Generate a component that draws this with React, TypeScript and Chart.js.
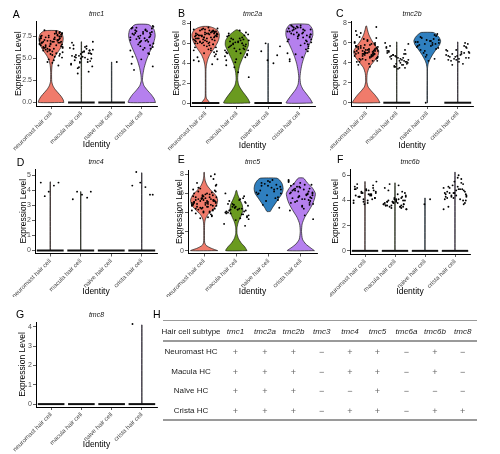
import React, { useEffect, useRef } from 'react';
import { Chart, registerables } from 'chart.js';

Chart.register(...registerables);
Chart.defaults.font.family = "'Liberation Sans', Arial, sans-serif";

type Pair = [number, number];

// ---------- shared ----------
const GROUPS = ['neuromast hair cell', 'macula hair cell', 'naive hair cell', 'crista hair cell'];
const COLORS = ['#F07B6B', '#6A9A1F', '#2F7FBF', '#B580EE'];
// fixed jitter offsets (fraction of a category slot), cycled over points
const JITTER = [-0.31, 0.12, -0.05, 0.27, -0.18, 0.36, -0.38, 0.04, 0.21, -0.26, 0.33, -0.12, 0.09, -0.34, 0.17, -0.02, 0.29, -0.22, 0.38, -0.08, 0.24];

// ---------- tmc1 ----------
const TMC1_YTICKS = [0, 2.5, 5, 7.5];
const TMC1_V_NEUROMAST: Pair[] = [[0, 0.42], [0.3, 0.4], [0.7, 0.33], [1.1, 0.23], [1.5, 0.13], [1.9, 0.06], [2.4, 0.02], [3.4, 0.015], [4.2, 0.03], [4.8, 0.07], [5.3, 0.14], [5.8, 0.24], [6.3, 0.33], [6.8, 0.38], [7.3, 0.4], [7.8, 0.36], [8.15, 0.22]];
const TMC1_V_MACULA: Pair[] = [[0, 0.006], [6.9, 0.006]];
const TMC1_V_NAIVE: Pair[] = [[0, 0.006], [4.6, 0.006]];
const TMC1_V_CRISTA: Pair[] = [[0, 0.45], [0.4, 0.41], [0.9, 0.31], [1.4, 0.18], [1.9, 0.07], [2.5, 0.02], [3.2, 0.035], [4, 0.08], [4.8, 0.15], [5.5, 0.23], [6.2, 0.32], [6.9, 0.4], [7.6, 0.44], [8.3, 0.4], [8.85, 0.22]];
const TMC1_P_NEUROMAST = [6.8, 7.2, 5.9, 7.5, 6.3, 7.9, 6.6, 5.4, 7.1, 6.9, 7.7, 6.1, 4.8, 7.3, 6.5, 7.0, 8.0, 6.2, 5.7, 7.4, 6.8, 7.6, 5.2, 6.4, 7.2, 6.0, 7.8, 6.7, 4.5, 7.0, 6.3, 7.5, 5.8, 6.9, 7.3, 8.1, 6.6, 5.5, 7.1, 6.2, 7.6, 4.2, 6.8, 7.4, 6.0, 7.9, 6.5, 5.1, 7.2, 6.9, 7.7, 5.9, 6.4, 7.0, 6.1, 7.5, 5.6, 6.7, 7.3, 8.2, 6.3, 4.9, 7.1, 6.8, 7.8, 6.0, 5.3, 7.4, 6.6, 7.0, 5.8, 7.6, 6.2, 6.9, 4.6, 7.2, 6.5, 7.9, 5.5, 6.8];
const TMC1_P_MACULA = [5.2, 4.6, 6.1, 5.5, 3.9, 5.8, 4.3, 6.4, 5.0, 5.6, 4.8, 6.0, 5.3, 3.5, 6.8, 5.1, 4.5, 5.9, 5.4, 4.1, 6.2, 5.7, 4.9, 6.5, 5.0, 3.3, 5.8, 4.4, 6.1, 5.5, 4.7, 5.2, 6.9, 4.0, 5.6, 5.3, 6.3, 4.6, 5.9, 5.1];
const TMC1_P_NAIVE = [4.6];
const TMC1_P_CRISTA = [7.8, 8.2, 6.9, 7.5, 8.5, 6.3, 7.1, 8.0, 5.6, 7.7, 8.4, 6.6, 7.3, 4.4, 8.1, 7.0, 6.1, 7.9, 8.6, 6.8, 7.4, 5.2, 8.3, 7.6, 6.5, 7.2, 8.7, 5.9, 7.8, 6.9, 3.7, 8.0, 7.5, 6.2, 8.4, 7.1, 4.9, 7.7, 8.2, 6.7, 7.3, 5.5, 8.5, 7.0, 6.4, 7.9, 8.1, 4.1, 7.4, 6.0];
const TMC1_ZERO = [false, true, true, false];

// ---------- tmc2a ----------
const TMC2A_YTICKS = [0, 2, 4, 6, 8];
const TMC2A_V_NEUROMAST: Pair[] = [[0, 0.14], [0.2, 0.09], [0.45, 0.03], [0.7, 0.012], [3.4, 0.012], [3.9, 0.03], [4.4, 0.07], [4.9, 0.14], [5.4, 0.25], [5.9, 0.35], [6.4, 0.42], [6.9, 0.44], [7.3, 0.38], [7.55, 0.26], [7.7, 0.1]];
const TMC2A_V_MACULA: Pair[] = [[0, 0.42], [0.4, 0.36], [0.8, 0.27], [1.3, 0.15], [1.8, 0.06], [2.4, 0.025], [3.1, 0.04], [3.8, 0.09], [4.5, 0.18], [5.2, 0.29], [5.8, 0.37], [6.3, 0.36], [6.8, 0.25], [7.1, 0.14], [7.35, 0.03]];
const TMC2A_V_NAIVE: Pair[] = [[0, 0.006], [6.0, 0.006]];
const TMC2A_V_CRISTA: Pair[] = [[0, 0.42], [0.4, 0.35], [0.9, 0.23], [1.4, 0.11], [1.9, 0.04], [2.6, 0.02], [3.3, 0.045], [4, 0.09], [4.7, 0.16], [5.4, 0.25], [6.1, 0.35], [6.8, 0.43], [7.4, 0.42], [7.9, 0.3]];
const TMC2A_P_NEUROMAST = [6.5, 6.9, 5.8, 7.2, 6.1, 6.7, 5.3, 7.0, 6.4, 4.6, 6.8, 7.4, 6.0, 5.6, 6.6, 7.1, 6.3, 4.2, 6.9, 7.5, 5.9, 6.2, 7.3, 6.6, 5.1, 6.8, 7.0, 6.4, 5.7, 7.2, 6.0, 4.9, 6.7, 7.6, 6.3, 5.5, 6.9, 7.1, 6.5, 4.4, 6.1, 7.3, 6.8, 5.8, 6.6, 7.0, 6.2, 5.2, 7.4, 6.5, 3.9, 6.9, 7.2, 6.0, 5.4, 6.7, 7.1, 6.3, 4.7, 6.8, 7.5, 6.4, 5.9, 7.0, 6.1, 5.0, 6.6, 7.3, 6.9, 4.3, 6.2, 7.2, 6.5, 5.6, 6.8, 7.0, 6.0, 5.3, 7.4, 6.7];
const TMC2A_P_MACULA = [6.2, 5.5, 6.8, 4.9, 5.9, 6.5, 4.3, 6.0, 5.2, 7.1, 5.7, 6.3, 3.6, 5.4, 6.7, 5.0, 6.1, 4.6, 5.8, 6.9, 5.3, 3.1, 6.4, 5.6, 4.8, 6.0, 7.3, 5.1, 6.6, 4.4, 5.9, 6.2, 2.6, 5.5, 6.8, 5.0, 6.3, 4.1, 5.7, 6.5, 5.3, 4.7, 6.1, 5.8, 7.0, 4.9, 6.4, 5.4, 3.8, 6.0];
const TMC2A_P_NAIVE = [4.0, 4.3, 4.8, 5.2, 5.7, 6.0];
const TMC2A_P_CRISTA = [7.2, 6.6, 7.6, 5.9, 6.9, 7.4, 6.2, 7.8, 5.4, 7.0, 6.7, 7.5, 4.6, 6.4, 7.3, 6.9, 5.7, 7.7, 6.1, 7.1, 6.8, 4.2, 7.4, 6.5, 5.2, 7.6, 6.9, 7.2, 5.8, 6.3, 7.8, 6.6, 4.9, 7.0, 7.5, 6.0, 6.8, 5.5, 7.3, 6.4, 7.7, 6.2, 4.4, 7.1, 6.7, 5.9, 7.4, 6.9, 5.0, 7.6];
const TMC2A_ZERO = [true, false, true, false];

// ---------- tmc2b ----------
const TMC2B_YTICKS = [0, 2, 4, 6, 8];
const TMC2B_V_NEUROMAST: Pair[] = [[0, 0.45], [0.4, 0.38], [0.8, 0.28], [1.2, 0.16], [1.6, 0.06], [2.1, 0.02], [2.9, 0.03], [3.5, 0.09], [4.1, 0.24], [4.7, 0.38], [5.2, 0.41], [5.7, 0.31], [6.2, 0.19], [6.8, 0.09], [7.3, 0.04], [7.7, 0.01]];
const TMC2B_V_MACULA: Pair[] = [[0, 0.006], [6.1, 0.006]];
const TMC2B_V_NAIVE: Pair[] = [[0, 0.008], [3.4, 0.008], [3.9, 0.03], [4.3, 0.08], [4.8, 0.17], [5.3, 0.28], [5.8, 0.4], [6.2, 0.44], [6.6, 0.38], [6.9, 0.28], [7.05, 0.2]];
const TMC2B_V_CRISTA: Pair[] = [[0, 0.006], [6.1, 0.006]];
const TMC2B_P_NEUROMAST = [5.2, 4.6, 5.8, 4.9, 5.5, 4.2, 6.1, 5.0, 4.7, 5.4, 6.5, 4.4, 5.1, 5.7, 4.8, 5.3, 6.0, 4.1, 5.6, 4.9, 5.2, 6.8, 4.5, 5.0, 5.9, 4.3, 5.4, 4.7, 6.2, 5.1, 3.8, 5.5, 4.9, 5.3, 7.2, 4.6, 5.0, 5.8, 4.4, 5.2, 6.4, 4.8, 5.6, 3.6, 5.1, 4.9, 5.7, 4.5, 6.0, 5.3, 4.2, 5.0, 7.6, 4.7, 5.4, 4.9, 5.9, 4.3, 5.2, 6.6, 4.6, 5.5, 5.0, 4.1, 5.8, 4.8, 5.3, 7.0, 4.5, 5.1, 6.3, 4.9, 5.6, 4.4, 5.2, 3.9, 5.7, 4.7, 5.0, 5.4];
const TMC2B_P_MACULA = [4.5, 3.8, 5.2, 4.1, 4.8, 3.5, 5.6, 4.3, 3.9, 4.9, 4.6, 5.9, 3.7, 4.2, 5.0, 4.4, 3.6, 5.3, 4.7, 4.0, 6.0, 3.4, 4.5, 5.1, 3.9, 4.8, 4.2, 5.5, 3.8, 4.6, 4.1, 5.7, 4.3, 3.6, 4.9, 5.2, 4.0, 4.7, 3.5, 4.4];
const TMC2B_P_NAIVE = [5.8, 6.3, 5.4, 6.6, 6.0, 5.2, 6.8, 5.7, 6.2, 4.6, 5.9, 6.5, 5.5, 6.1, 4.2, 6.4, 5.8, 6.9, 5.0, 6.2, 5.6, 6.0, 4.8, 6.7, 5.3, 6.3, 5.9, 4.4, 6.1, 5.7, 0];
const TMC2B_P_CRISTA = [4.7, 5.1, 4.3, 5.6, 4.9, 4.5, 5.3, 4.1, 5.0, 4.6, 5.9, 4.4, 4.8, 5.2, 3.9, 4.7, 5.5, 4.2, 5.0, 4.6, 6.0, 4.3, 4.9, 5.3, 4.5, 3.8, 5.1, 4.8, 4.4, 5.7];
const TMC2B_ZERO = [false, true, false, true];

// ---------- tmc4 ----------
const TMC4_YTICKS = [0, 1, 2, 3, 4, 5];
const TMC4_V_NEUROMAST: Pair[] = [[0, 0.006], [4.55, 0.006]];
const TMC4_V_MACULA: Pair[] = [[0, 0.006], [3.9, 0.006]];
const TMC4_V_NAIVE: Pair[] = [];
const TMC4_V_CRISTA: Pair[] = [[0, 0.006], [5.15, 0.006]];
const TMC4_P_NEUROMAST = [4.5, 4.3, 3.9, 4.5, 3.6];
const TMC4_P_MACULA = [3.7, 3.5, 3.4, 3.9, 3.9];
const TMC4_P_NAIVE: number[] = [];
const TMC4_P_CRISTA = [4.3, 4.2, 4.5, 3.7, 5.2, 3.7];
const TMC4_ZERO = [true, true, true, true];

// ---------- tmc5 ----------
const TMC5_YTICKS = [0, 2, 4, 6, 8];
const TMC5_V_NEUROMAST: Pair[] = [[0, 0.42], [0.25, 0.22], [0.55, 0.06], [0.9, 0.015], [2.8, 0.015], [3.3, 0.04], [3.8, 0.12], [4.3, 0.27], [4.8, 0.39], [5.3, 0.42], [5.8, 0.36], [6.3, 0.22], [6.8, 0.1], [7.3, 0.035], [7.8, 0.012], [8.2, 0.008]];
const TMC5_V_MACULA: Pair[] = [[0, 0.33], [0.4, 0.26], [0.8, 0.15], [1.3, 0.06], [1.8, 0.02], [2.4, 0.02], [3.0, 0.06], [3.6, 0.14], [4.2, 0.2], [4.8, 0.18], [5.4, 0.1], [5.9, 0.04], [6.3, 0.01]];
const TMC5_V_NAIVE: Pair[] = [[4.1, 0.05], [4.5, 0.12], [5, 0.22], [5.5, 0.32], [6, 0.42], [6.5, 0.45], [7, 0.42], [7.4, 0.34], [7.6, 0.25]];
const TMC5_V_CRISTA: Pair[] = [[0, 0.42], [0.3, 0.3], [0.7, 0.15], [1.2, 0.05], [2, 0.02], [2.8, 0.04], [3.5, 0.12], [4.2, 0.25], [4.8, 0.35], [5.4, 0.42], [6, 0.45], [6.6, 0.35], [7.1, 0.2], [7.6, 0.08]];
const TMC5_P_NEUROMAST = [5.1, 4.6, 5.7, 4.2, 5.4, 6.2, 4.8, 5.0, 3.8, 5.6, 4.4, 6.5, 5.2, 4.9, 5.9, 4.0, 5.3, 7.1, 4.7, 5.5, 3.6, 6.0, 5.1, 4.5, 5.8, 4.3, 6.8, 5.0, 4.8, 5.4, 3.9, 6.3, 5.2, 4.6, 5.7, 4.1, 5.3, 7.5, 4.9, 5.6, 4.4, 6.1, 5.0, 3.5, 5.5, 4.7, 6.6, 5.1, 4.2, 5.9, 4.8, 5.3, 8.0, 4.5, 5.0, 6.4, 4.0, 5.7, 5.2, 4.6, 6.9, 5.4, 3.7, 5.1, 4.9, 5.8, 4.3, 6.2, 5.0, 4.7, 5.5, 7.8, 4.4, 5.2, 3.4, 6.0, 4.8, 5.6, 4.1, 5.3];
const TMC5_P_MACULA = [4.3, 3.8, 4.9, 3.5, 4.6, 5.3, 4.0, 4.4, 3.2, 5.0, 4.2, 3.7, 4.8, 5.7, 4.1, 3.4, 4.5, 5.1, 3.9, 4.7, 2.8, 4.3, 5.5, 4.0, 3.6, 4.9, 4.4, 6.0, 3.8, 4.6, 4.2, 5.2, 3.3, 4.8, 4.1, 3.9, 5.4, 4.5, 2.6, 4.3];
const TMC5_P_NAIVE = [6.2, 6.8, 5.6, 7.1, 6.4, 5.2, 6.9, 6.0, 7.4, 5.8, 6.5, 4.8, 6.7, 6.1, 7.2, 5.5, 6.3, 4.5, 7.0, 6.6, 5.9, 6.4, 7.3, 5.3, 6.8, 6.0];
const TMC5_P_CRISTA = [6.1, 5.4, 6.7, 5.0, 6.3, 5.8, 7.2, 4.6, 6.0, 5.5, 6.9, 5.2, 6.4, 4.2, 5.9, 6.6, 5.6, 7.0, 4.9, 6.2, 5.3, 6.8, 3.7, 5.7, 6.5, 5.1, 6.1, 7.4, 4.7, 5.9, 6.3, 5.5, 6.7, 4.4, 6.0, 5.8, 7.1, 5.2, 6.4, 3.3, 5.6, 6.2, 5.0, 6.9, 5.7, 4.8, 6.5, 6.0, 7.3, 5.4];
const TMC5_ZERO = [false, false, false, false];

// ---------- tmc6b ----------
const TMC6B_YTICKS = [0, 2, 4, 6];
const TMC6B_V_NEUROMAST: Pair[] = [[0, 0.006], [5.5, 0.006]];
const TMC6B_V_MACULA: Pair[] = [[0, 0.006], [5.4, 0.006]];
const TMC6B_V_NAIVE: Pair[] = [[0, 0.006], [4.2, 0.006]];
const TMC6B_V_CRISTA: Pair[] = [[0, 0.006], [6.25, 0.006]];
const TMC6B_P_NEUROMAST = [4.4, 4.8, 4.1, 5.0, 4.3, 4.6, 3.8, 4.9, 4.5, 5.3, 4.2, 4.7, 4.0, 5.1, 4.4, 3.7, 4.8, 4.3, 5.5, 4.6, 4.1, 4.9, 4.5, 3.9, 5.2, 4.3, 4.7, 4.0, 4.8, 4.4, 5.0, 4.2, 4.6, 3.8, 4.9, 4.5];
const TMC6B_P_MACULA = [3.9, 4.2, 3.6, 4.0, 3.4, 4.5, 3.8, 3.5, 4.1, 3.7, 4.8, 3.3, 3.9, 4.3, 3.6, 5.2, 3.8, 4.0, 3.5, 4.4, 3.7, 4.1, 3.4, 3.9, 4.6, 3.6, 3.8, 5.0, 3.5, 4.2, 3.7, 4.0, 3.3, 3.9, 4.7, 3.6, 4.1, 3.8, 3.5, 5.3, 4.3, 3.7, 4.0, 3.6, 3.9];
const TMC6B_P_NAIVE = [4.1, 3.7];
const TMC6B_P_CRISTA = [4.5, 4.9, 4.2, 5.3, 4.6, 4.0, 5.0, 4.4, 5.7, 4.7, 3.8, 4.3, 5.1, 4.6, 4.1, 5.5, 4.8, 3.5, 4.4, 5.2, 4.9, 4.3, 6.0, 4.6, 4.0, 5.0, 4.5, 3.3, 4.8, 5.4, 4.2, 4.7, 4.4, 5.8, 4.1, 4.9, 4.6, 3.7, 5.1, 4.3];
const TMC6B_ZERO = [true, true, true, true];

// ---------- tmc8 ----------
const TMC8_YTICKS = [0, 1, 2, 3, 4];
const TMC8_V_CRISTA: Pair[] = [[0, 0.006], [4.1, 0.006]];
const TMC8_P_CRISTA = [4.15];
const TMC8_ZERO = [true, true, true, true];

// ---------- table H ----------
const TABLE_GENES = ['tmc1', 'tmc2a', 'tmc2b', 'tmc3', 'tmc4', 'tmc5', 'tmc6a', 'tmc6b', 'tmc8'];
const TABLE_ROWS = ['Neuromast HC', 'Macula HC', 'Naïve HC', 'Crista HC'];
const TABLE_NEUROMAST = ['+', '+', '+', '−', '+', '+', '−', '+', '−'];
const TABLE_MACULA = ['+', '+', '+', '−', '+', '+', '−', '+', '−'];
const TABLE_NAIVE = ['+', '+', '+', '−', '−', '+', '−', '−', '−'];
const TABLE_CRISTA = ['+', '+', '+', '−', '+', '+', '−', '+', '+'];

// ---------- layout (positions only) ----------
type Box = { cl: number; ct: number; cw: number; ch: number; L: number; R: number; T: number; B: number; yTitleX: number; titleY: number; xTitleY: number; lx: number; ly: number };

type PanelCfg = {
  letter: string; gene: string; yMin: number; yMax: number; yTicks: number[]; decimals: number;
  violins: Pair[][]; points: number[][]; zeros: boolean[]; box: Box;
};

const FONT = "'Liberation Sans', Arial, sans-serif";
const Y_TITLE = 8.5;
const G_TITLE = 7;

function violinPath(g: number, prof: Pair[]) {
  if (prof.length === 0) return [];
  const right = prof.map(([y, w]) => ({ x: g + w, y }));
  const left = prof.slice().reverse().map(([y, w]) => ({ x: g - w, y }));
  return [...right, ...left, right[0]];
}

function Panel({ cfg }: { cfg: PanelCfg }) {
  const ref = useRef<HTMLCanvasElement>(null);
  const b = cfg.box;
  useEffect(() => {
    const lhY = Y_TITLE * 1.2;
    const lhT = G_TITLE * 1.2;
    const datasets: any[] = [];
    cfg.violins.forEach((prof, i) => {
      if (!prof.length) return;
      datasets.push({
        data: violinPath(i + 1, prof), showLine: true, fill: 'shape',
        backgroundColor: COLORS[i], borderColor: '#1a1a1a', borderWidth: 0.7,
        pointRadius: 0, pointHoverRadius: 0, tension: 0.2, order: 3,
      });
    });
    cfg.zeros.forEach((z, i) => {
      if (!z) return;
      datasets.push({
        data: [{ x: i + 1 - 0.44, y: 0 }, { x: i + 1 + 0.44, y: 0 }], showLine: true,
        borderColor: '#111', borderWidth: 2, pointRadius: 0, pointHoverRadius: 0, order: 2,
      });
    });
    cfg.points.forEach((arr, i) => {
      if (!arr.length) return;
      datasets.push({
        data: arr.map((y, k) => ({ x: i + 1 + JITTER[(k + i * 7) % JITTER.length], y })),
        showLine: false, pointRadius: 0.95, pointHoverRadius: 0.95, backgroundColor: '#000', borderWidth: 0, order: 1,
      });
    });
    const chart = new Chart(ref.current!, {
      type: 'scatter',
      data: { datasets },
      options: {
        responsive: false, animation: false, events: [],
        layout: { padding: { left: 0, top: 0, bottom: 0, right: b.cl + b.cw - b.R } },
        plugins: {
          legend: { display: false }, tooltip: { enabled: false },
          title: {
            display: true, text: cfg.gene, fullSize: false, color: '#111',
            font: { family: FONT, size: G_TITLE, style: 'italic', weight: 'normal' },
            padding: { top: b.titleY - b.ct - lhT / 2, bottom: b.T - b.titleY - lhT / 2 },
          },
        },
        scales: {
          x: {
            type: 'linear', min: 0.5, max: 4.5,
            afterBuildTicks: (s: any) => { s.ticks = [1, 2, 3, 4].map((v) => ({ value: v })); },
            afterFit: (s: any) => { s.height = b.ct + b.ch - b.B; s.paddingLeft = 0; s.paddingRight = 0; },
            ticks: {
              autoSkip: false, maxRotation: 45, minRotation: 45, padding: 1, color: '#4d4d4d',
              font: { family: FONT, size: 6.2 },
              callback: (v: any) => GROUPS[Math.round(Number(v)) - 1] ?? '',
            },
            grid: { display: true, drawOnChartArea: false, drawTicks: true, tickLength: 3, color: '#333', lineWidth: 0.8 },
            border: { display: true, color: '#000', width: 1 },
            title: {
              display: true, text: 'Identity', color: '#000', font: { family: FONT, size: Y_TITLE },
              padding: { top: 0, bottom: b.ct + b.ch - b.xTitleY - lhY / 2 },
            },
          },
          y: {
            type: 'linear', min: cfg.yMin, max: cfg.yMax,
            afterBuildTicks: (s: any) => { s.ticks = cfg.yTicks.map((v) => ({ value: v })); },
            afterFit: (s: any) => { s.width = b.L - b.cl; s.paddingTop = 0; s.paddingBottom = 0; },
            ticks: {
              padding: 1, color: '#4d4d4d', font: { family: FONT, size: 7 },
              callback: (v: any) => Number(v).toFixed(cfg.decimals),
            },
            grid: { display: true, drawOnChartArea: false, drawTicks: true, tickLength: 3, color: '#333', lineWidth: 0.8 },
            border: { display: true, color: '#000', width: 1 },
            title: {
              display: true, text: 'Expression Level', color: '#000', font: { family: FONT, size: Y_TITLE },
              padding: { top: b.yTitleX - b.cl - lhY / 2, bottom: 0 },
            },
          },
        },
      } as any,
    });
    return () => chart.destroy();
  }, []);
  return (
    <>
      <canvas ref={ref} width={b.cw} height={b.ch}
        style={{ position: 'absolute', left: b.cl, top: b.ct, width: b.cw, height: b.ch }} />
      <div style={{ position: 'absolute', left: b.lx, top: b.ly, font: `10.5px ${FONT}`, lineHeight: 1, color: '#000' }}>{cfg.letter}</div>
    </>
  );
}

const BOX_A: Box = { cl: 0, ct: 0, cw: 165, ch: 152, L: 36, R: 157, T: 21.5, B: 106, yTitleX: 19, titleY: 14.5, xTitleY: 144.5, lx: 12.7, ly: 8.6 };
const BOX_B: Box = { cl: 165, ct: 0, cw: 165, ch: 152, L: 190, R: 315, T: 21, B: 106, yTitleX: 177, titleY: 14.5, xTitleY: 145.5, lx: 178, ly: 7.9 };
const BOX_C: Box = { cl: 330, ct: 0, cw: 170, ch: 152, L: 351, R: 473, T: 21, B: 106, yTitleX: 336, titleY: 14.5, xTitleY: 145.5, lx: 336, ly: 7.9 };
const BOX_D: Box = { cl: 0, ct: 145, cw: 165, ch: 152, L: 35, R: 157, T: 169, B: 253.5, yTitleX: 23.5, titleY: 162, xTitleY: 291.7, lx: 16.7, ly: 156.9 };
const BOX_E: Box = { cl: 165, ct: 145, cw: 165, ch: 152, L: 188, R: 317, T: 170, B: 253.5, yTitleX: 180, titleY: 162, xTitleY: 291.7, lx: 177.7, ly: 153.6 };
const BOX_F: Box = { cl: 330, ct: 145, cw: 170, ch: 152, L: 350, R: 470, T: 169, B: 254, yTitleX: 336, titleY: 162, xTitleY: 291.7, lx: 337, ly: 153.6 };
const BOX_G: Box = { cl: 0, ct: 295, cw: 165, ch: 159, L: 36, R: 157, T: 322, B: 407, yTitleX: 23, titleY: 315, xTitleY: 445, lx: 16, ly: 308.6 };

const PANELS: PanelCfg[] = [
  { letter: 'A', gene: 'tmc1', yMin: -0.4, yMax: 9.2, yTicks: TMC1_YTICKS, decimals: 1,
    violins: [TMC1_V_NEUROMAST, TMC1_V_MACULA, TMC1_V_NAIVE, TMC1_V_CRISTA],
    points: [TMC1_P_NEUROMAST, TMC1_P_MACULA, TMC1_P_NAIVE, TMC1_P_CRISTA], zeros: TMC1_ZERO, box: BOX_A },
  { letter: 'B', gene: 'tmc2a', yMin: -0.3, yMax: 8.25, yTicks: TMC2A_YTICKS, decimals: 0,
    violins: [TMC2A_V_NEUROMAST, TMC2A_V_MACULA, TMC2A_V_NAIVE, TMC2A_V_CRISTA],
    points: [TMC2A_P_NEUROMAST, TMC2A_P_MACULA, TMC2A_P_NAIVE, TMC2A_P_CRISTA], zeros: TMC2A_ZERO, box: BOX_B },
  { letter: 'C', gene: 'tmc2b', yMin: -0.33, yMax: 8.2, yTicks: TMC2B_YTICKS, decimals: 0,
    violins: [TMC2B_V_NEUROMAST, TMC2B_V_MACULA, TMC2B_V_NAIVE, TMC2B_V_CRISTA],
    points: [TMC2B_P_NEUROMAST, TMC2B_P_MACULA, TMC2B_P_NAIVE, TMC2B_P_CRISTA], zeros: TMC2B_ZERO, box: BOX_C },
  { letter: 'D', gene: 'tmc4', yMin: -0.2, yMax: 5.4, yTicks: TMC4_YTICKS, decimals: 0,
    violins: [TMC4_V_NEUROMAST, TMC4_V_MACULA, TMC4_V_NAIVE, TMC4_V_CRISTA],
    points: [TMC4_P_NEUROMAST, TMC4_P_MACULA, TMC4_P_NAIVE, TMC4_P_CRISTA], zeros: TMC4_ZERO, box: BOX_D },
  { letter: 'E', gene: 'tmc5', yMin: -0.3, yMax: 8.45, yTicks: TMC5_YTICKS, decimals: 0,
    violins: [TMC5_V_NEUROMAST, TMC5_V_MACULA, TMC5_V_NAIVE, TMC5_V_CRISTA],
    points: [TMC5_P_NEUROMAST, TMC5_P_MACULA, TMC5_P_NAIVE, TMC5_P_CRISTA], zeros: TMC5_ZERO, box: BOX_E },
  { letter: 'F', gene: 'tmc6b', yMin: -0.25, yMax: 6.5, yTicks: TMC6B_YTICKS, decimals: 0,
    violins: [TMC6B_V_NEUROMAST, TMC6B_V_MACULA, TMC6B_V_NAIVE, TMC6B_V_CRISTA],
    points: [TMC6B_P_NEUROMAST, TMC6B_P_MACULA, TMC6B_P_NAIVE, TMC6B_P_CRISTA], zeros: TMC6B_ZERO, box: BOX_F },
  { letter: 'G', gene: 'tmc8', yMin: -0.15, yMax: 4.25, yTicks: TMC8_YTICKS, decimals: 0,
    violins: [[], [], [], TMC8_V_CRISTA],
    points: [[], [], [], TMC8_P_CRISTA], zeros: TMC8_ZERO, box: BOX_G },
];

// table geometry
const COL_X = [191, 235.5, 265, 293.5, 321.7, 350, 377.5, 406.5, 435, 462.7];
const HEADER_Y = 331.7;
const ROW_Y = [351.7, 371.7, 391, 411];
const RULE_Y = [320.7, 341, 420];
const TABLE_LEFT = 163;
const TABLE_RIGHT = 477;

function Cell({ x, y, text, italic, size, color }: { x: number; y: number; text: string; italic?: boolean; size: number; color: string }) {
  return (
    <div style={{
      position: 'absolute', left: x, top: y, transform: 'translate(-50%, -50%)', whiteSpace: 'nowrap',
      font: `${italic ? 'italic ' : ''}${size}px ${FONT}`, lineHeight: 1, color,
    }}>{text}</div>
  );
}

function Table() {
  const rows = [TABLE_NEUROMAST, TABLE_MACULA, TABLE_NAIVE, TABLE_CRISTA];
  return (
    <>
      <div style={{ position: 'absolute', left: 153, top: 308.6, font: `10.5px ${FONT}`, lineHeight: 1, color: '#000' }}>H</div>
      {RULE_Y.map((y, i) => (
        <div key={'r' + i} style={{ position: 'absolute', left: TABLE_LEFT, top: y - 0.75, width: TABLE_RIGHT - TABLE_LEFT, height: 1.5, background: '#9a9a9a' }} />
      ))}
      <Cell x={COL_X[0]} y={HEADER_Y} text="Hair cell subtype" size={8} color="#222" />
      {TABLE_GENES.map((g, j) => <Cell key={'h' + j} x={COL_X[j + 1]} y={HEADER_Y} text={g} italic size={8} color="#222" />)}
      {TABLE_ROWS.map((r, i) => (
        <React.Fragment key={'row' + i}>
          <Cell x={COL_X[0]} y={ROW_Y[i]} text={r} size={8} color="#222" />
          {rows[i].map((s, j) => <Cell key={'c' + i + j} x={COL_X[j + 1]} y={ROW_Y[i]} text={s} size={9} color="#666" />)}
        </React.Fragment>
      ))}
    </>
  );
}

export default function App() {
  return (
    <div style={{ position: 'absolute', left: 0, top: 0, width: 500, height: 454, background: '#fff', overflow: 'hidden' }}>
      {PANELS.map((p) => <Panel key={p.letter} cfg={p} />)}
      <Table />
    </div>
  );
}
